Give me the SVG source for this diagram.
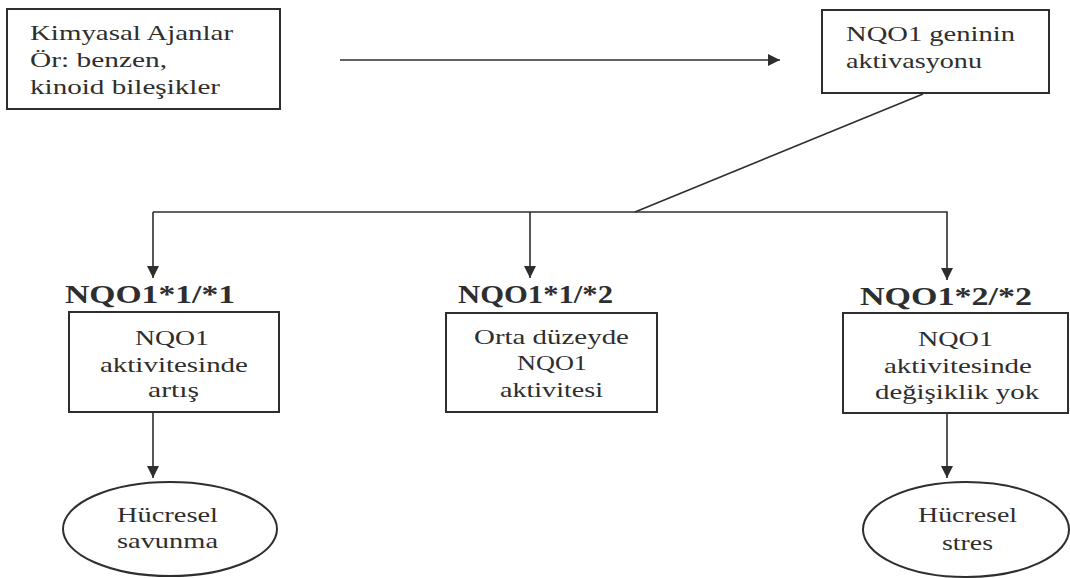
<svg xmlns="http://www.w3.org/2000/svg" width="1070" height="578" viewBox="0 0 1070 578">
<style>
.box{fill:#fff;stroke:#2e2e2e;stroke-width:2}
.t{font-family:"Liberation Serif","Times New Roman",serif;font-size:21px;fill:#2e2e2e}
.lbl{font-family:"Liberation Serif","Times New Roman",serif;font-size:26px;font-weight:bold;fill:#2e2e2e}
.ln{fill:none;stroke:#2e2e2e;stroke-width:1.6}
</style>
<defs>
<marker id="ah" markerWidth="12" markerHeight="12" viewBox="0 0 12 12" refX="12" refY="6" orient="auto" markerUnits="userSpaceOnUse">
<path d="M0,0 L12,6 L0,12 Z" fill="#2e2e2e"/>
</marker>
</defs>
<rect width="1070" height="578" fill="#fff"/>
<g id="connectors">
<line class="ln" x1="340" y1="60" x2="780" y2="60" marker-end="url(#ah)"/>
<line class="ln" x1="923" y1="94" x2="635" y2="212"/>
<polyline class="ln" points="153,212 947,212 947,280" marker-end="url(#ah)"/>
<line class="ln" x1="153" y1="212" x2="153" y2="278" marker-end="url(#ah)"/>
<line class="ln" x1="530" y1="212" x2="530" y2="278" marker-end="url(#ah)"/>
<line class="ln" x1="153" y1="412" x2="153" y2="478" marker-end="url(#ah)"/>
<line class="ln" x1="947" y1="413" x2="947" y2="478" marker-end="url(#ah)"/>
</g>
<g id="kimyasal">
<rect class="box" x="7" y="9" width="273" height="100"/>
<text class="t" transform="translate(30,40) scale(1.3,1)" textLength="156.2" lengthAdjust="spacingAndGlyphs">Kimyasal Ajanlar</text>
<text class="t" transform="translate(30,67) scale(1.3,1)" textLength="105.4" lengthAdjust="spacingAndGlyphs">Ör: benzen,</text>
<text class="t" transform="translate(30,94) scale(1.3,1)" textLength="146.2" lengthAdjust="spacingAndGlyphs">kinoid bileşikler</text>
</g>
<g id="nqo1gen">
<rect class="box" x="822" y="10" width="227" height="83"/>
<text class="t" transform="translate(846,41) scale(1.3,1)" textLength="130" lengthAdjust="spacingAndGlyphs">NQO1 geninin</text>
<text class="t" transform="translate(846,68) scale(1.3,1)" textLength="104.6" lengthAdjust="spacingAndGlyphs">aktivasyonu</text>
</g>
<g id="g11">
<text class="lbl" transform="translate(65,303) scale(1.3,1)" textLength="130.8" lengthAdjust="spacingAndGlyphs">NQO1*1/*1</text>
<rect class="box" x="69" y="312" width="210" height="100"/>
<text class="t" transform="translate(135,345) scale(1.3,1)" textLength="56.9" lengthAdjust="spacingAndGlyphs">NQO1</text>
<text class="t" transform="translate(100,372) scale(1.3,1)" textLength="113.8" lengthAdjust="spacingAndGlyphs">aktivitesinde</text>
<text class="t" transform="translate(148,397) scale(1.3,1)" textLength="39.2" lengthAdjust="spacingAndGlyphs">artış</text>
</g>
<g id="g12">
<text class="lbl" transform="translate(458,303) scale(1.3,1)" textLength="119.2" lengthAdjust="spacingAndGlyphs">NQO1*1/*2</text>
<rect class="box" x="446" y="313" width="211" height="99"/>
<text class="t" transform="translate(474,344) scale(1.3,1)" textLength="119.2" lengthAdjust="spacingAndGlyphs">Orta düzeyde</text>
<text class="t" transform="translate(517,370) scale(1.3,1)" textLength="53.8" lengthAdjust="spacingAndGlyphs">NQO1</text>
<text class="t" transform="translate(500,397) scale(1.3,1)" textLength="79.2" lengthAdjust="spacingAndGlyphs">aktivitesi</text>
</g>
<g id="g22">
<text class="lbl" transform="translate(860,305) scale(1.3,1)" textLength="132.3" lengthAdjust="spacingAndGlyphs">NQO1*2/*2</text>
<rect class="box" x="843" y="313" width="225" height="100"/>
<text class="t" transform="translate(918,346) scale(1.3,1)" textLength="57.7" lengthAdjust="spacingAndGlyphs">NQO1</text>
<text class="t" transform="translate(884,373) scale(1.3,1)" textLength="113.8" lengthAdjust="spacingAndGlyphs">aktivitesinde</text>
<text class="t" transform="translate(875,399) scale(1.3,1)" textLength="126.2" lengthAdjust="spacingAndGlyphs">değişiklik yok</text>
</g>
<g id="savunma">
<ellipse class="box" cx="170" cy="529" rx="107" ry="47" stroke-width="1.5"/>
<text class="t" transform="translate(117,522) scale(1.3,1)" textLength="77.7" lengthAdjust="spacingAndGlyphs">Hücresel</text>
<text class="t" transform="translate(117,548) scale(1.3,1)" textLength="77.7" lengthAdjust="spacingAndGlyphs">savunma</text>
</g>
<g id="stres">
<ellipse class="box" cx="966" cy="529.5" rx="103" ry="47.5" stroke-width="1.5"/>
<text class="t" transform="translate(918,522) scale(1.3,1)" textLength="76.2" lengthAdjust="spacingAndGlyphs">Hücresel</text>
<text class="t" transform="translate(942,550) scale(1.3,1)" textLength="39.2" lengthAdjust="spacingAndGlyphs">stres</text>
</g>
</svg>
